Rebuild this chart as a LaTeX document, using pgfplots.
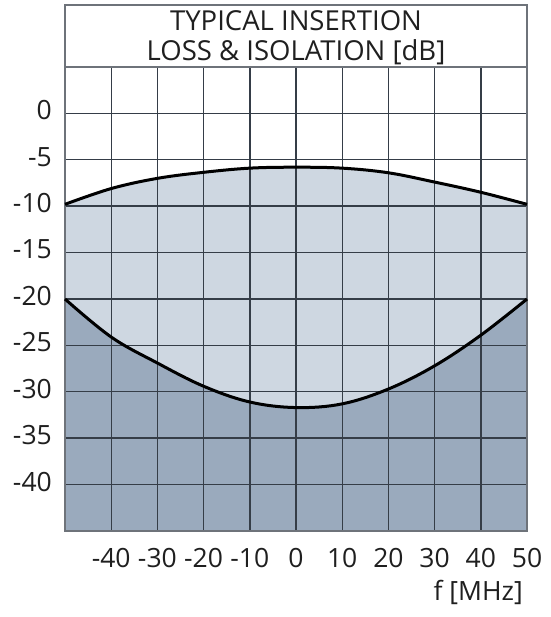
\documentclass[border=0pt]{standalone}
\usepackage{fontspec}
\setmainfont{Open Sans}
\usepackage{pgfplots}
\pgfplotsset{compat=1.18}
\definecolor{lightfill}{HTML}{CED7E1}
\definecolor{darkfill}{HTML}{9AAABD}
\definecolor{gridc}{HTML}{353D47}
\definecolor{framec}{HTML}{6E737A}
\begin{document}
\begin{tikzpicture}
\begin{axis}[
  name=ax,
  at={(0,0)}, anchor=south west,
  scale only axis,
  width=462pt, height=464pt,
  xmin=-50, xmax=50, ymin=-45, ymax=5,
  xtick={-40,-30,-20,-10,0,10,20,30,40,50},
  xticklabels={-40,-30,-20,-10,0,10,20,30,40,50},
  ytick={-40,-35,-30,-25,-20,-15,-10,-5,0},
  yticklabels={-40,-35,-30,-25,-20,-15,-10,-5,0},
  major tick length=0pt,
  grid=major,
  major grid style={draw=gridc, line width=1.4pt},
  axis line style={draw=framec, line width=2pt},
  every tick label/.append style={inner sep=0pt, font=\fontsize{26.5}{30}\selectfont, text=black!88},
  yticklabel style={anchor=east, xshift=-13pt, yshift=3pt},
  xticklabel style={anchor=north, yshift=-17pt},
  axis on top,
  set layers,
  clip=false,
]
\addplot[fill=lightfill, draw=none] coordinates {
  (-50,-45) (-50,-9.8) (-40,-8.1) (-30,-7.0) (-20,-6.35) (-10,-5.9) (0,-5.8)
  (10,-5.9) (20,-6.4) (30,-7.4) (40,-8.5) (50,-9.8) (50,-45)} -- cycle;
\addplot[fill=darkfill, draw=none] coordinates {
  (-50,-45) (-50,-20) (-40,-24.1) (-30,-26.9) (-20,-29.4) (-10,-31.1) (0,-31.7)
  (10,-31.3) (20,-29.7) (30,-27.2) (40,-23.9) (50,-20) (50,-45)} -- cycle;
\addplot[on layer=axis foreground, black, line width=3pt, smooth, tension=0.6] coordinates {
  (-50,-9.8) (-40,-8.1) (-30,-7.0) (-20,-6.35) (-10,-5.9) (0,-5.8)
  (10,-5.9) (20,-6.4) (30,-7.4) (40,-8.5) (50,-9.8)};
\addplot[on layer=axis foreground, black, line width=3pt, smooth, tension=0.6] coordinates {
  (-50,-20) (-40,-24.1) (-30,-26.9) (-20,-29.4) (-10,-31.1) (0,-31.7)
  (10,-31.3) (20,-29.7) (30,-27.2) (40,-23.9) (50,-20)};
\end{axis}
\draw[framec, line width=2pt] (ax.north west) rectangle ([yshift=62pt]ax.north east);
\node[align=center, font=\fontsize{27.5}{30}\selectfont, text=black!88, inner sep=0pt] at ([yshift=29pt]ax.north) {TYPICAL INSERTION\\LOSS \& ISOLATION [dB]};
\node[anchor=east, inner sep=0pt, font=\fontsize{26.5}{30}\selectfont, text=black!88] at ([xshift=-4pt,yshift=-61pt]ax.south east) {f [MHz]};
\path (-65pt,-86pt) rectangle (485pt,531pt);
\end{tikzpicture}
\end{document}
